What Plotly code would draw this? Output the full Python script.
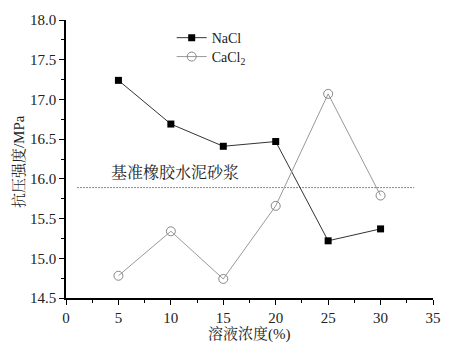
import plotly.graph_objects as go

concentration = [5, 10, 15, 20, 25, 30]
nacl = [17.24, 16.69, 16.41, 16.47, 15.22, 15.37]
cacl2 = [14.78, 15.34, 14.74, 15.66, 17.07, 15.79]
baseline_value = 15.89
baseline_x = [1.1, 33.2]
baseline_label = "基准橡胶水泥砂浆"
x_title = "溶液浓度(%)"
y_title = "抗压强度/MPa"

FONT = "Liberation Serif, Noto Serif CJK SC, Noto Sans CJK SC, serif"

fig = go.Figure()
fig.add_trace(go.Scatter(
    x=baseline_x, y=[baseline_value, baseline_value], mode="lines",
    line=dict(color="#111", width=1, dash="1px,2px"), showlegend=False, hoverinfo="skip"))
fig.add_trace(go.Scatter(
    x=concentration, y=nacl, mode="lines+markers", name="NaCl", legend="legend",
    line=dict(color="#333", width=1),
    marker=dict(symbol="square", size=7, color="black")))
fig.add_trace(go.Scatter(
    x=concentration, y=cacl2, mode="lines+markers", name="CaCl<sub>2</sub>", legend="legend2",
    line=dict(color="#999", width=1),
    marker=dict(symbol="circle-open", size=9, color="#888", line=dict(width=1))))

fig.add_annotation(x=10.4, y=baseline_value, yshift=15,
                   text=baseline_label, showarrow=False,
                   font=dict(family=FONT, size=16, color="#222"))
fig.add_annotation(xref="paper", yref="paper", x=0.5, y=-0.09, yanchor="top",
                   text=x_title, showarrow=False,
                   font=dict(family=FONT, size=15, color="#222"))
fig.add_annotation(xref="paper", yref="paper", x=-0.13, y=0.49, xanchor="center",
                   text=y_title, showarrow=False, textangle=-90,
                   font=dict(family=FONT, size=15, color="#222"))

axis_common = dict(
    showgrid=False, zeroline=False, showline=True, linecolor="black", linewidth=1.5,
    ticks="outside", ticklen=5, tickwidth=1.2, tickcolor="black",
    tickfont=dict(family=FONT, size=15, color="#222"),
    minor=dict(ticks="outside", ticklen=3, tickwidth=1, tickcolor="black"),
)

legend_common = dict(xanchor="left", yanchor="middle", bgcolor="rgba(0,0,0,0)",
                     font=dict(family=FONT, size=14, color="#222"), itemwidth=30)

fig.update_layout(
    width=449, height=342,
    margin=dict(l=66, r=8, t=20, b=44),
    paper_bgcolor="white", plot_bgcolor="white",
    font=dict(family=FONT, color="#222"),
    xaxis=dict(range=[0, 35], tick0=0, dtick=5, minor_dtick=2.5, **axis_common),
    yaxis=dict(range=[14.5, 18.0], tick0=14.5, dtick=0.5, minor_dtick=0.25, tickformat=".1f",
               **axis_common),
    legend=dict(x=0.288, y=0.935, **legend_common),
    legend2=dict(x=0.288, y=0.867, **legend_common),
)

fig.write_html("out.html", config={"displayModeBar": False},
               post_script="document.body.style.margin='0';document.body.style.overflow='hidden';")
